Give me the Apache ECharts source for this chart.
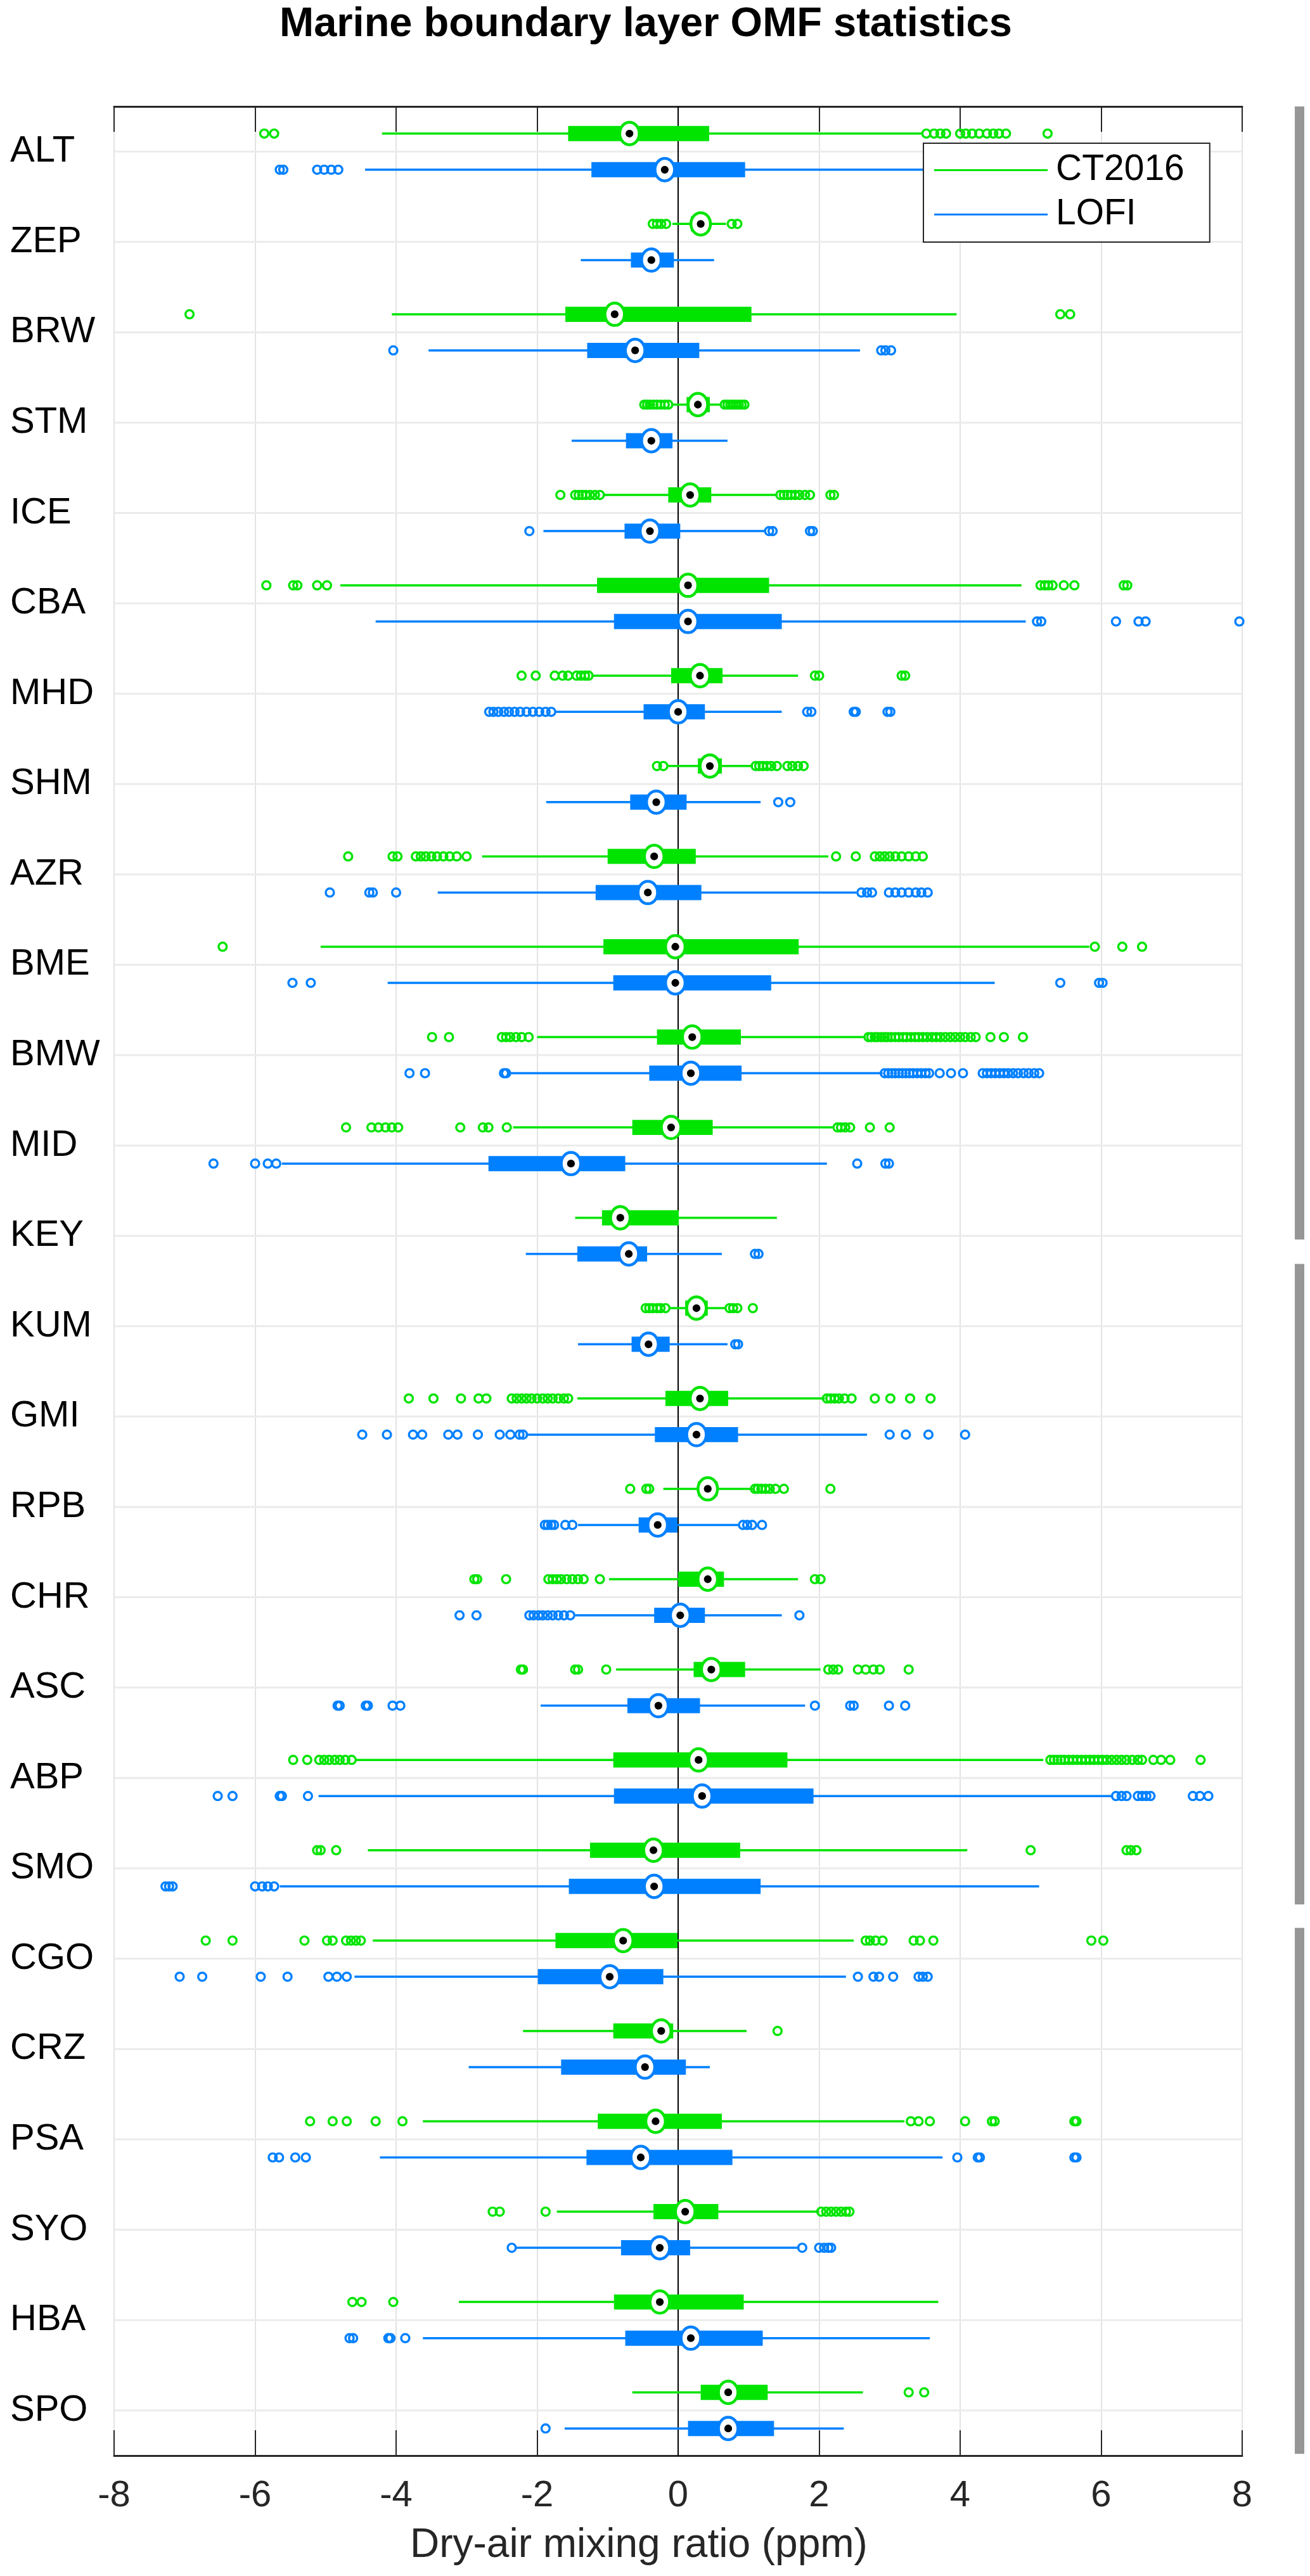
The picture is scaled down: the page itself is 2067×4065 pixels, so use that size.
<!DOCTYPE html>
<html>
<head>
<meta charset="utf-8">
<script src="https://cdn.jsdelivr.net/npm/echarts@6.0.0/dist/echarts.min.js"></script>
<style>html,body{margin:0;padding:0;background:#fff;}#main{width:2067px;height:4065px;}</style>
</head>
<body>
<div id="main"></div>
<script>
var stations = ['ALT','ZEP','BRW','STM','ICE','CBA','MHD','SHM','AZR','BME','BMW','MID','KEY','KUM','GMI','RPB','CHR','ASC','ABP','SMO','CGO','CRZ','PSA','SYO','HBA','SPO'];
var xTicks = [-8, 8, 2];

// CT2016 (green) box statistics
var ctLow  = [-4.20,-0.08,-4.06,-0.10,-1.07,-4.79,-1.23,-0.15,-2.78,-5.07,-2.00,-2.34,-1.46,-0.12,-1.43,-0.21,-0.98,-0.88,-4.57,-4.40,-4.33,-2.20,-3.62,-1.72,-3.11,-0.65];
var ctQ1   = [-1.56, 0.18,-1.60, 0.12,-0.14,-1.15,-0.10, 0.28,-1.00,-1.06,-0.30,-0.65,-1.08, 0.10,-0.18, 0.28, 0.00, 0.22,-0.92,-1.25,-1.74,-0.92,-1.14,-0.35,-0.91, 0.32];
var ctMed  = [-0.69, 0.32,-0.90, 0.28, 0.17, 0.14, 0.31, 0.45,-0.34,-0.04, 0.20,-0.10,-0.82, 0.26, 0.31, 0.42, 0.42, 0.47, 0.29,-0.35,-0.78,-0.24,-0.32, 0.10,-0.26, 0.71];
var ctQ3   = [ 0.44, 0.45, 1.04, 0.45, 0.47, 1.29, 0.63, 0.62, 0.25, 1.71, 0.89, 0.49, 0.01, 0.42, 0.71, 0.56, 0.65, 0.95, 1.55, 0.88,-0.01,-0.07, 0.62, 0.57, 0.93, 1.27];
var ctHigh = [ 3.48, 0.68, 3.95, 0.62, 1.41, 4.87, 1.70, 1.06, 2.13, 5.83, 2.66, 2.22, 1.40, 0.68, 2.08, 1.06, 1.70, 2.02, 5.18, 4.10, 2.49, 0.97, 3.21, 2.00, 3.69, 2.62];
var ctOutliers = [
  [-5.87,-5.73,3.52,3.63,3.72,3.80,4.00,4.08,4.17,4.27,4.38,4.47,4.55,4.65,5.24],
  [-0.36,-0.30,-0.24,-0.17,0.76,0.84],
  [-6.93,5.42,5.56],
  [-0.48,-0.44,-0.40,-0.35,-0.30,-0.25,-0.19,-0.14,0.66,0.70,0.74,0.78,0.82,0.86,0.90,0.94],
  [-1.67,-1.46,-1.41,-1.36,-1.31,-1.25,-1.18,-1.11,1.45,1.50,1.55,1.60,1.66,1.72,1.80,1.87,2.16,2.21],
  [-5.84,-5.46,-5.40,-5.12,-4.98,5.14,5.20,5.25,5.31,5.47,5.62,6.32,6.37],
  [-2.22,-2.02,-1.75,-1.64,-1.56,-1.44,-1.38,-1.32,-1.27,1.94,2.00,3.17,3.22],
  [-0.30,-0.21,1.10,1.15,1.20,1.26,1.32,1.40,1.55,1.62,1.70,1.78],
  [-4.68,-4.05,-3.98,-3.72,-3.65,-3.58,-3.50,-3.42,-3.33,-3.24,-3.14,-3.00,2.24,2.52,2.79,2.86,2.93,3.00,3.08,3.17,3.27,3.37,3.47],
  [-6.46,5.91,6.30,6.58],
  [-3.49,-3.25,-2.50,-2.44,-2.38,-2.30,-2.22,-2.12,2.70,2.74,2.79,2.83,2.88,2.93,2.97,3.02,3.08,3.13,3.19,3.24,3.30,3.36,3.41,3.47,3.53,3.60,3.66,3.72,3.79,3.86,3.93,4.00,4.07,4.15,4.22,4.43,4.62,4.89],
  [-4.71,-4.35,-4.25,-4.15,-4.06,-3.97,-3.09,-2.77,-2.69,-2.43,2.26,2.31,2.37,2.44,2.72,3.00],
  [],
  [-0.46,-0.41,-0.36,-0.30,-0.25,-0.18,0.73,0.78,0.84,1.06],
  [-3.82,-3.47,-3.08,-2.83,-2.72,-2.36,-2.29,-2.22,-2.15,-2.08,-2.00,-1.92,-1.85,-1.78,-1.70,-1.62,-1.56,2.11,2.16,2.22,2.28,2.36,2.46,2.79,3.01,3.29,3.58],
  [-0.68,-0.45,-0.41,1.09,1.13,1.18,1.24,1.30,1.38,1.50,2.16],
  [-2.89,-2.85,-2.44,-1.84,-1.78,-1.72,-1.66,-1.58,-1.50,-1.42,-1.34,-1.11,1.94,2.02],
  [-2.23,-2.20,-1.46,-1.42,-1.02,2.13,2.20,2.27,2.55,2.66,2.77,2.86,3.27],
  [-5.46,-5.26,-5.09,-5.02,-4.95,-4.87,-4.80,-4.72,-4.63,5.28,5.33,5.38,5.43,5.48,5.54,5.60,5.66,5.72,5.78,5.84,5.90,5.96,6.02,6.08,6.15,6.22,6.29,6.36,6.44,6.52,6.58,6.74,6.85,6.98,7.41],
  [-5.12,-5.07,-4.85,5.00,6.36,6.42,6.50],
  [-6.70,-6.32,-5.30,-4.98,-4.90,-4.71,-4.64,-4.57,-4.50,2.66,2.72,2.80,2.90,3.34,3.43,3.62,5.86,6.03],
  [1.41],
  [-5.22,-4.90,-4.70,-4.29,-3.91,3.30,3.41,3.57,4.07,4.45,4.49,5.62,5.65],
  [-2.63,-2.53,-1.88,2.03,2.10,2.17,2.24,2.31,2.38,2.43],
  [-4.62,-4.49,-4.04],
  [3.27,3.49]
];

// LOFI (blue) box statistics
var lofiLow  = [-4.44,-1.38,-3.54,-1.51,-1.91,-4.29,-1.75,-1.87,-3.41,-4.12,-2.42,-5.62,-2.16,-1.42,-2.16,-1.42,-1.46,-1.95,-5.10,-5.65,-4.59,-2.97,-4.23,-2.30,-3.62,-1.61];
var lofiQ1   = [-1.23,-0.67,-1.29,-0.74,-0.76,-0.91,-0.49,-0.68,-1.17,-0.92,-0.41,-2.69,-1.43,-0.66,-0.33,-0.56,-0.34,-0.72,-0.91,-1.55,-1.99,-1.66,-1.30,-0.81,-0.75, 0.14];
var lofiMed  = [-0.19,-0.38,-0.61,-0.38,-0.40, 0.14, 0.00,-0.31,-0.43,-0.04, 0.18,-1.52,-0.70,-0.42, 0.26,-0.29, 0.03,-0.28, 0.34,-0.34,-0.97,-0.47,-0.53,-0.26, 0.18, 0.71];
var lofiQ3   = [ 0.95,-0.06, 0.30,-0.08, 0.03, 1.47, 0.38, 0.12, 0.33, 1.32, 0.90,-0.75,-0.44,-0.12, 0.85,-0.01, 0.38, 0.31, 1.92, 1.17,-0.21, 0.11, 0.77, 0.17, 1.20, 1.36];
var lofiHigh = [ 4.30, 0.51, 2.58, 0.70, 1.25, 4.93, 1.47, 1.17, 2.53, 4.49, 2.90, 2.11, 0.62, 0.70, 2.68, 0.87, 1.47, 1.80, 6.17, 5.12, 2.38, 0.45, 3.75, 1.72, 3.57, 2.35];
var lofiOutliers = [
  [-5.65,-5.60,-5.12,-5.02,-4.92,-4.82],
  [],
  [-4.04,2.88,2.94,3.02],
  [],
  [-2.11,1.29,1.34,1.87,1.91],
  [5.09,5.15,6.21,6.53,6.63,7.96],
  [-2.68,-2.62,-2.55,-2.47,-2.40,-2.32,-2.24,-2.15,-2.06,-1.97,-1.88,-1.80,1.83,1.89,2.49,2.52,2.97,3.01],
  [1.42,1.59],
  [-4.94,-4.38,-4.33,-4.00,2.60,2.68,2.75,2.99,3.08,3.17,3.27,3.37,3.45,3.54],
  [-5.47,-5.21,5.42,5.97,6.02],
  [-3.81,-3.59,-2.47,-2.44,2.93,2.98,3.03,3.08,3.13,3.18,3.23,3.28,3.33,3.39,3.45,3.51,3.56,3.71,3.87,4.04,4.32,4.38,4.44,4.50,4.56,4.62,4.68,4.75,4.82,4.90,4.97,5.05,5.12],
  [-6.59,-6.00,-5.82,-5.70,2.54,2.94,2.99],
  [1.09,1.14],
  [0.81,0.85],
  [-4.48,-4.13,-3.76,-3.63,-3.26,-3.13,-2.84,-2.53,-2.38,-2.25,-2.20,3.00,3.23,3.55,4.07],
  [-1.89,-1.85,-1.80,-1.76,-1.60,-1.50,0.92,0.98,1.05,1.19],
  [-3.10,-2.86,-2.11,-2.05,-1.98,-1.92,-1.85,-1.78,-1.70,-1.62,-1.53,1.72],
  [-4.83,-4.80,-4.43,-4.40,-4.05,-3.94,1.94,2.44,2.49,2.99,3.22],
  [-6.53,-6.32,-5.65,-5.62,-5.25,6.21,6.29,6.36,6.52,6.58,6.64,6.70,7.30,7.40,7.52],
  [-7.27,-7.22,-7.17,-6.00,-5.90,-5.82,-5.73],
  [-7.07,-6.75,-5.92,-5.54,-4.96,-4.84,-4.70,2.55,2.77,2.85,3.05,3.41,3.47,3.54],
  [],
  [-5.75,-5.66,-5.43,-5.28,3.96,4.25,4.28,5.62,5.65],
  [-2.36,1.76,2.00,2.07,2.13,2.17],
  [-4.66,-4.61,-4.11,-4.08,-3.87],
  [-1.88]
];

// latitude group bars on the right, in station-index units
var latBands = [[-0.5, 12.04], [12.31, 19.40], [19.66, 25.48]];

var GREEN = '#00e400';
var BLUE = '#0080ff';
var FONT = 'Liberation Sans, Arial, Helvetica, sans-serif';

function boxData(lo, q1, med, q3, hi) {
  return stations.map(function (s, i) { return [i, lo[i], q1[i], med[i], q3[i], hi[i]]; });
}
function outData(list) {
  var d = [];
  list.forEach(function (arr, i) { arr.forEach(function (v) { d.push([v, i]); }); });
  return d;
}

function makeBox(color, off) {
  return function (params, api) {
    var i = api.value(0);
    var band = api.size([0, 1])[1];
    var y = api.coord([0, i])[1] + off * band;
    var xLo = api.coord([api.value(1), i])[0];
    var xQ1 = api.coord([api.value(2), i])[0];
    var xMed = api.coord([api.value(3), i])[0];
    var xQ3 = api.coord([api.value(4), i])[0];
    var xHi = api.coord([api.value(5), i])[0];
    var h = 0.168 * band;
    return {
      type: 'group',
      children: [
        { type: 'line', shape: { x1: xLo, y1: y, x2: xHi, y2: y }, style: { stroke: color, lineWidth: 3.5 } },
        { type: 'rect', shape: { x: xQ1, y: y - h / 2, width: xQ3 - xQ1, height: h }, style: { fill: color } },
        { type: 'ellipse', shape: { cx: xMed, cy: y, rx: 0.108 * band, ry: 0.124 * band }, style: { fill: '#fff', stroke: color, lineWidth: 4.5 } },
        { type: 'circle', shape: { cx: xMed, cy: y, r: 0.043 * band }, style: { fill: '#000' } }
      ]
    };
  };
}

function makeOut(color, off) {
  return function (params, api) {
    var i = api.value(1);
    var band = api.size([0, 1])[1];
    var p = api.coord([api.value(0), i]);
    return {
      type: 'circle',
      shape: { cx: p[0], cy: p[1] + off * band, r: 0.045 * band },
      style: { fill: 'none', stroke: color, lineWidth: 3.4 }
    };
  };
}

var chart = echarts.init(document.getElementById('main'), null, { renderer: 'canvas' });

var option = {
  animation: false,
  backgroundColor: '#fff',
  title: {
    text: 'Marine boundary layer OMF statistics',
    left: 441, top: 7, padding: 0,
    textStyle: { fontSize: 65, fontWeight: 'bold', color: '#000', fontFamily: FONT }
  },
  legend: {
    orient: 'vertical',
    left: 1457, top: 226,
    padding: [14, 40, 15, 17],
    itemGap: 13,
    itemWidth: 179, itemHeight: 3,
    backgroundColor: '#fff',
    borderColor: '#262626', borderWidth: 2,
    selectedMode: false,
    textStyle: { fontSize: 57, color: '#000', fontFamily: FONT, padding: [0, 0, 0, 8] },
    data: [
      { name: 'CT2016', icon: 'rect', itemStyle: { color: GREEN } },
      { name: 'LOFI', icon: 'rect', itemStyle: { color: BLUE } }
    ],
    z: 10
  },
  grid: {
    left: 180, right: 107, top: 168, bottom: 190,
    containLabel: false, outerBoundsMode: 'none',
    show: true, borderColor: '#262626', borderWidth: 2, backgroundColor: '#fff'
  },
  xAxis: [{
    type: 'value', position: 'bottom',
    min: xTicks[0], max: xTicks[1], interval: xTicks[2],
    axisLine: { show: true, onZero: false, lineStyle: { color: '#262626', width: 3 } },
    axisTick: { show: true, inside: true, length: 40, lineStyle: { color: '#262626', width: 2 } },
    axisLabel: { show: true, fontSize: 58, color: '#262626', fontFamily: FONT, margin: 35 },
    splitLine: { show: true, lineStyle: { color: '#e3e3e3', width: 2 } }
  }, {
    type: 'value', position: 'top',
    min: xTicks[0], max: xTicks[1], interval: xTicks[2],
    axisLine: { show: true, onZero: false, lineStyle: { color: '#262626', width: 3 } },
    axisTick: { show: true, inside: true, length: 40, lineStyle: { color: '#262626', width: 2 } },
    axisLabel: { show: false },
    splitLine: { show: false }
  }],
  yAxis: {
    type: 'category', data: stations, inverse: true, boundaryGap: true,
    axisLine: { show: true, lineStyle: { color: '#000', width: 2 } },
    axisTick: { show: false },
    axisLabel: { show: true, interval: 0, fontSize: 58, color: '#000', fontFamily: FONT, align: 'left', margin: 164, padding: [16, 0, 0, 0] },
    splitLine: { show: false }
  },
  graphic: [{
    type: 'text', left: 647, top: 3985,
    style: { text: 'Dry-air mixing ratio (ppm)', fontSize: 64, fill: '#262626', fontFamily: FONT }
  }],
  series: [
    { // horizontal gridlines at each station
      type: 'custom', name: 'grid-h', z: 1, silent: true,
      data: stations.map(function (s, i) { return [0, i]; }),
      encode: { x: 0, y: 1 },
      renderItem: function (params, api) {
        var i = api.value(1);
        var a = api.coord([xTicks[0], i]);
        var b = api.coord([xTicks[1], i]);
        return { type: 'line', shape: { x1: a[0], y1: a[1], x2: b[0], y2: b[1] }, style: { stroke: '#ebebeb', lineWidth: 3 } };
      }
    },
    { // zero line
      type: 'custom', name: 'zero', z: 1, silent: true,
      data: [[0, 0]],
      encode: { x: 0, y: 1 },
      renderItem: function (params, api) {
        var cs = params.coordSys;
        var x = api.coord([api.value(0), 0])[0];
        return { type: 'line', shape: { x1: x, y1: cs.y, x2: x, y2: cs.y + cs.height }, style: { stroke: '#000', lineWidth: 2 } };
      }
    },
    { // latitude group bars
      type: 'custom', name: 'lat', z: 1, silent: true, clip: false,
      data: latBands.map(function (b) { return [0, b[0], b[1]]; }),
      encode: { x: 0 },
      renderItem: function (params, api) {
        var cs = params.coordSys;
        var band = api.size([0, 1])[1];
        var y0 = api.coord([0, 0])[1];
        var ya = y0 + api.value(1) * band;
        var yb = y0 + api.value(2) * band;
        return { type: 'rect', shape: { x: cs.x + cs.width + 83, y: ya, width: 15, height: yb - ya }, style: { fill: '#969696' } };
      }
    },
    {
      type: 'custom', name: 'CT2016', z: 3,
      itemStyle: { color: GREEN },
      data: boxData(ctLow, ctQ1, ctMed, ctQ3, ctHigh),
      encode: { y: 0, x: [1, 2, 3, 4, 5] },
      renderItem: makeBox(GREEN, -0.2)
    },
    {
      type: 'custom', name: 'LOFI', z: 3,
      itemStyle: { color: BLUE },
      data: boxData(lofiLow, lofiQ1, lofiMed, lofiQ3, lofiHigh),
      encode: { y: 0, x: [1, 2, 3, 4, 5] },
      renderItem: makeBox(BLUE, 0.2)
    },
    {
      type: 'custom', name: 'CT2016 outliers', z: 4,
      data: outData(ctOutliers),
      encode: { x: 0, y: 1 },
      renderItem: makeOut(GREEN, -0.2)
    },
    {
      type: 'custom', name: 'LOFI outliers', z: 4,
      data: outData(lofiOutliers),
      encode: { x: 0, y: 1 },
      renderItem: makeOut(BLUE, 0.2)
    }
  ]
};
chart.setOption(option);
</script>
</body>
</html>
